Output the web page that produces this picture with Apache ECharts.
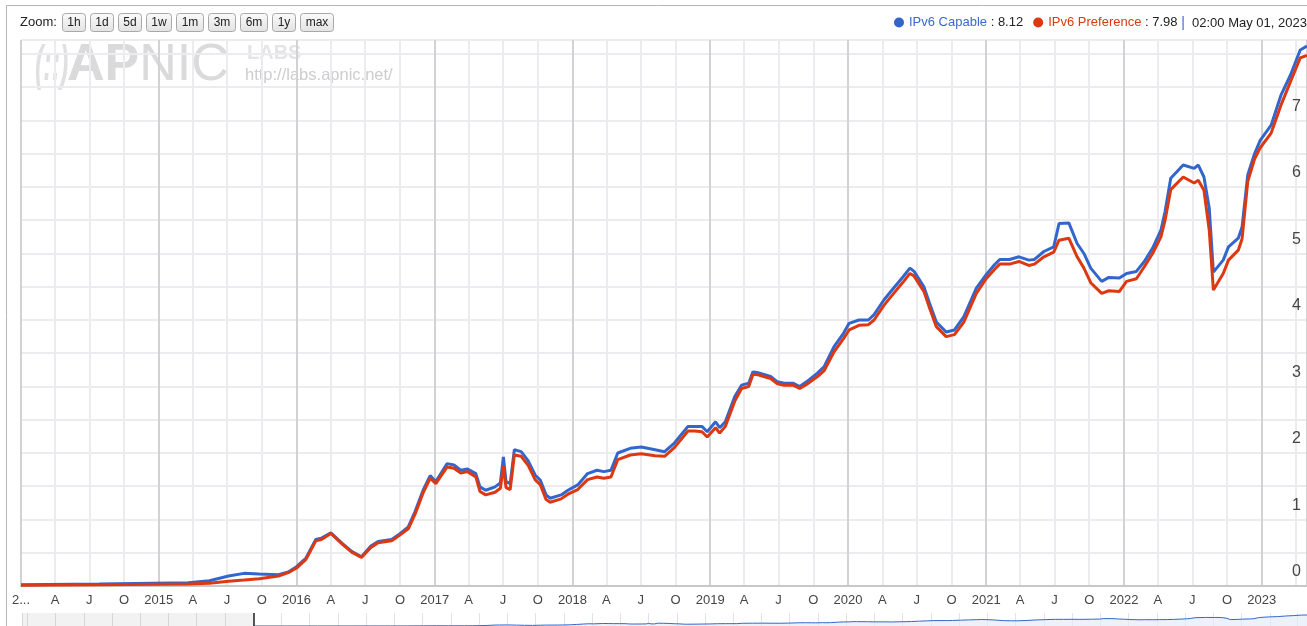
<!DOCTYPE html>
<html>
<head>
<meta charset="utf-8">
<script src="https://cdn.jsdelivr.net/npm/echarts@6/dist/echarts.min.js"></script>
<style>
html,body{margin:0;padding:0;background:#fff}
#chart{width:1307px;height:626px}
</style>
</head>
<body>
<div id="chart"></div>
<script>
var dates = ['2014-01-01','2014-07-27','2015-03-20','2015-05-15','2015-07-05','2015-08-15','2015-09-24','2015-11-14','2015-12-10',
  '2016-01-01','2016-01-26','2016-02-21','2016-03-07','2016-04-01','2016-05-01','2016-05-26','2016-06-21','2016-07-16','2016-08-04',
  '2016-09-09','2016-09-27','2016-10-23','2016-11-10','2016-12-02','2016-12-20',
  '2017-01-04','2017-02-03','2017-02-21','2017-03-11','2017-03-29','2017-04-20','2017-05-01','2017-05-16','2017-06-10','2017-06-24',
  '2017-07-02','2017-07-09','2017-07-20','2017-07-31','2017-08-18','2017-09-05','2017-09-24','2017-10-08','2017-10-23','2017-11-03',
  '2017-12-02','2017-12-20',
  '2018-01-15','2018-02-10','2018-03-07','2018-03-25','2018-04-13','2018-05-01','2018-06-03','2018-07-02','2018-08-08','2018-09-02',
  '2018-09-28','2018-11-03','2018-11-21','2018-12-10','2018-12-24',
  '2019-01-15','2019-01-26','2019-02-10','2019-03-07','2019-03-25','2019-04-13','2019-04-24','2019-05-05','2019-06-10','2019-06-28',
  '2019-07-16','2019-08-08','2019-08-26','2019-09-13','2019-10-12','2019-10-30','2019-11-25','2019-12-20',
  '2020-01-04','2020-01-30','2020-02-24','2020-03-10','2020-04-05','2020-05-01','2020-05-26','2020-06-13','2020-06-24','2020-07-20',
  '2020-08-04','2020-08-22','2020-09-17','2020-10-09','2020-11-03','2020-12-06',
  '2021-01-01','2021-01-23','2021-02-06','2021-03-04','2021-03-29','2021-04-24','2021-05-09','2021-06-03','2021-06-29','2021-07-13',
  '2021-08-08','2021-08-30','2021-09-17','2021-10-05','2021-11-03','2021-11-22','2021-12-20',
  '2022-01-08','2022-02-03','2022-02-24','2022-03-18','2022-04-09','2022-04-20','2022-05-05','2022-06-07','2022-07-06','2022-07-17',
  '2022-08-01','2022-08-15','2022-08-26','2022-09-21','2022-10-05','2022-10-31','2022-11-10','2022-11-25','2022-12-13','2022-12-28',
  '2023-01-26','2023-02-21','2023-03-18','2023-04-13','2023-05-01'];

var capable = [0.02,0.03,0.05,0.08,0.15,0.19,0.18,0.17,0.21,
  0.29,0.42,0.70,0.72,0.80,0.64,0.52,0.44,0.60,0.67,
  0.70,0.77,0.89,1.12,1.45,1.66,
  1.57,1.84,1.82,1.74,1.76,1.69,1.49,1.44,1.49,1.55,
  1.94,1.57,1.54,2.05,2.02,1.89,1.67,1.59,1.37,1.32,
  1.37,1.44,
  1.52,1.69,1.74,1.72,1.74,2.00,2.07,2.09,2.05,2.02,
  2.15,2.40,2.40,2.40,2.32,
  2.47,2.38,2.47,2.85,3.02,3.05,3.22,3.21,3.15,3.07,
  3.05,3.05,3.00,3.07,3.20,3.30,3.60,3.80,
  3.95,4.00,4.00,4.08,4.30,4.48,4.65,4.78,4.73,4.50,
  4.25,3.97,3.82,3.85,4.05,4.48,
  4.68,4.83,4.91,4.91,4.95,4.90,4.91,5.03,5.10,5.45,
  5.46,5.15,5.00,4.78,4.58,4.64,4.63,
  4.70,4.73,4.88,5.08,5.35,5.63,6.13,6.33,6.28,6.33,
  6.15,5.68,4.72,4.90,5.10,5.23,5.40,6.18,6.50,6.70,
  6.93,7.38,7.68,8.06,8.12];

var preference = [0.01,0.02,0.03,0.04,0.07,0.09,0.11,0.15,0.20,
  0.27,0.40,0.68,0.70,0.79,0.63,0.51,0.43,0.58,0.65,
  0.68,0.75,0.86,1.08,1.41,1.62,
  1.54,1.79,1.77,1.70,1.72,1.64,1.42,1.37,1.41,1.47,
  1.80,1.48,1.45,1.97,1.95,1.82,1.60,1.52,1.30,1.26,
  1.31,1.38,
  1.45,1.60,1.64,1.62,1.64,1.90,1.97,1.99,1.96,1.95,
  2.08,2.33,2.33,2.32,2.24,
  2.38,2.30,2.40,2.78,2.97,3.00,3.18,3.18,3.12,3.04,
  3.02,3.02,2.97,3.03,3.15,3.24,3.52,3.72,
  3.85,3.92,3.93,4.00,4.22,4.40,4.57,4.70,4.66,4.43,
  4.18,3.90,3.75,3.78,3.97,4.40,
  4.62,4.76,4.84,4.84,4.88,4.82,4.84,4.95,5.02,5.20,
  5.23,4.95,4.78,4.56,4.40,4.44,4.43,
  4.58,4.62,4.80,5.00,5.25,5.50,5.96,6.15,6.06,6.10,
  5.95,5.35,4.45,4.70,4.90,5.05,5.22,6.08,6.42,6.59,
  6.81,7.23,7.58,7.94,7.98];

var quarterLabels = ['', 'A', 'J', 'O'];
var yTickLabels = ['0', '1', '2', '3', '4', '5', '6', '7'];
var zoomButtons = ['1h', '1d', '5d', '1w', '1m', '3m', '6m', '1y', 'max'];
var lastStamp = '02:00 May 01, 2023';
var viewStart = '2014-01-01', viewEnd = '2023-05-01', overviewStart = '2011-12-14';

var DAY = 86400000;
var FONT = '"Liberation Sans", Arial, sans-serif';

var capSeries = dates.map(function (d, i) { return [d, capable[i]]; });
var prefSeries = dates.map(function (d, i) { return [d, preference[i]]; });
var labelCutoff = echarts.time.parse(viewEnd).getTime() - 45 * DAY;

// the first year label does not fit at the left edge, so it is cut like in the original
function cutLabel(text) {
  if (echarts.format && echarts.format.truncateText) {
    return echarts.format.truncateText(text, 20, '13px ' + FONT, '...');
  }
  return text;
}

// zoom buttons drawn as plain graphics
var ctx = document.createElement('canvas').getContext('2d');
ctx.font = '12px ' + FONT;
var btnEls = [];
var bx = 62;
zoomButtons.forEach(function (t) {
  var w = Math.round(ctx.measureText(t).width + 10);
  btnEls.push({
    type: 'group', x: bx, y: 13,
    children: [
      { type: 'rect', shape: { x: 0.5, y: 0.5, width: w, height: 18, r: 3 },
        style: { fill: new echarts.graphic.LinearGradient(0, 0, 0, 1, [{ offset: 0, color: '#fbfbfb' }, { offset: 1, color: '#e2e2e2' }]),
                 stroke: '#a8a8a8', lineWidth: 1 } },
      { type: 'text', x: w / 2 + 0.5, y: 10, style: { text: t, font: '12px ' + FONT, fill: '#222', align: 'center', verticalAlign: 'middle' } }
    ]
  });
  bx += w + 5;
});

var myChart = echarts.init(document.getElementById('chart'));

var option = {
  animation: false,
  grid: [
    { left: 21, right: -4, top: 40, bottom: 40 },
    { left: 22, right: -2, top: 613, bottom: -1 }
  ],
  legend: {
    left: 889, top: 11, icon: 'circle', itemWidth: 10, itemHeight: 10, itemGap: 10,
    textStyle: { fontFamily: FONT, fontSize: 13, rich: { v: { color: '#222', fontFamily: FONT, fontSize: 13 } } },
    data: [
      { name: 'IPv6 Capable', textStyle: { color: '#3d67d0' } },
      { name: 'IPv6 Preference', textStyle: { color: '#dc3912' } }
    ],
    formatter: function (name) {
      var arr = name === 'IPv6 Capable' ? capable : preference;
      return name + '{v| : ' + arr[arr.length - 1].toFixed(2) + '}';
    }
  },
  xAxis: [
    {
      type: 'time', gridIndex: 0, min: viewStart, max: viewEnd,
      minInterval: 95 * DAY, maxInterval: 95 * DAY,
      axisLine: { lineStyle: { color: '#c8c8c8', width: 2 } },
      axisTick: { show: false },
      splitLine: { show: true, lineStyle: { color: '#ececf0', width: 2 } },
      axisLabel: {
        margin: 8, color: '#444', fontFamily: FONT, fontSize: 13, hideOverlap: false,
        formatter: function (v) {
          if (v > labelCutoff) return '';
          var d = new Date(v), m = d.getMonth();
          if (m === 0) {
            var y = String(d.getFullYear());
            return y === viewStart.slice(0, 4) ? cutLabel(y) : y;
          }
          return m % 3 === 0 ? quarterLabels[m / 3] : '';
        }
      }
    },
    {
      type: 'time', gridIndex: 0, min: viewStart, max: viewEnd,
      minInterval: 366 * DAY, maxInterval: 366 * DAY,
      axisLine: { show: false }, axisTick: { show: false }, axisLabel: { show: false },
      splitLine: { show: true, lineStyle: { color: '#d2d2d2', width: 2 } }
    },
    {
      type: 'time', gridIndex: 1, min: overviewStart, max: viewEnd,
      minInterval: 95 * DAY, maxInterval: 95 * DAY,
      axisLine: { show: false }, axisTick: { show: false }, axisLabel: { show: false },
      splitLine: { show: true, lineStyle: { color: '#e2e2e2', width: 1 } }
    }
  ],
  yAxis: [
    {
      type: 'value', gridIndex: 0, min: 0, max: 8.21, interval: 0.5, position: 'right', offset: -15,
      axisLine: { show: false }, axisTick: { show: false },
      splitLine: { lineStyle: { color: '#ebebf0', width: 2 } },
      axisLabel: {
        margin: 0, align: 'left', verticalAlign: 'bottom', padding: [0, 0, 6, 0],
        color: '#444', fontFamily: FONT, fontSize: 16,
        formatter: function (v) { return yTickLabels[v] || ''; }
      }
    },
    { type: 'value', gridIndex: 1, min: 0, max: 9.6, show: false }
  ],
  graphic: [
    { type: 'rect', silent: true, shape: { x: 6.5, y: 5.5, width: 1400, height: 700 },
      style: { fill: 'none', stroke: '#b4b4b4', lineWidth: 1 } },
    { type: 'text', x: 20, y: 22, style: { text: 'Zoom:', font: '13px ' + FONT, fill: '#222', verticalAlign: 'middle' } },
    { type: 'text', x: 35, y: 66, scaleX: 0.5, z: -1, silent: true,
      style: { text: '(::)', font: 'italic bold 50px ' + FONT, fill: '#e0e0e0', verticalAlign: 'middle' } },
    { type: 'text', x: 67, y: 66, z: -1, silent: true,
      style: {
        text: '{a|AP}{b|NIC}', verticalAlign: 'middle',
        rich: {
          a: { fontFamily: FONT, fontSize: 52, fontWeight: 'bold', fill: '#dadada' },
          b: { fontFamily: FONT, fontSize: 52, fill: '#dadada' }
        }
      } },
    { type: 'text', x: 247, y: 53, z: -1, silent: true,
      style: { text: 'LABS', font: 'bold 20px ' + FONT, fill: '#e4e4e4', verticalAlign: 'middle' } },
    { type: 'text', x: 245, y: 75, z: -1, silent: true,
      style: { text: 'http://labs.apnic.net/', font: '16.5px ' + FONT, fill: '#cdcdcd', verticalAlign: 'middle' } },
    { type: 'text', x: 1183, y: 23, style: { text: '|', font: '14px ' + FONT, fill: '#3d67d0', align: 'center', verticalAlign: 'middle' } },
    { type: 'text', x: 1192, y: 23, style: { text: lastStamp, font: '13px ' + FONT, fill: '#222', verticalAlign: 'middle' } }
  ].concat(btnEls),
  series: [
    {
      name: 'IPv6 Capable', type: 'line', xAxisIndex: 0, yAxisIndex: 0, data: capSeries,
      showSymbol: false, symbol: 'none', lineStyle: { color: '#3366cc', width: 3 }, itemStyle: { color: '#3366cc' }
    },
    {
      name: 'IPv6 Preference', type: 'line', xAxisIndex: 0, yAxisIndex: 0, data: prefSeries,
      showSymbol: false, symbol: 'none', lineStyle: { color: '#dc3912', width: 3 }, itemStyle: { color: '#dc3912' }
    },
    {
      type: 'line', xAxisIndex: 2, yAxisIndex: 1, data: capSeries, silent: true,
      showSymbol: false, symbol: 'none', lineStyle: { color: '#3366cc', width: 1 },
      areaStyle: { color: '#e6ecf8' },
      markArea: { silent: true, itemStyle: { color: 'rgba(0,0,0,0.05)' }, data: [[{ xAxis: overviewStart }, { xAxis: viewStart }]] },
      markLine: { silent: true, symbol: 'none', label: { show: false }, lineStyle: { color: '#222', width: 1.5, type: 'solid' },
        data: [{ xAxis: viewStart }] }
    }
  ]
};

myChart.setOption(option);
</script>
</body>
</html>
